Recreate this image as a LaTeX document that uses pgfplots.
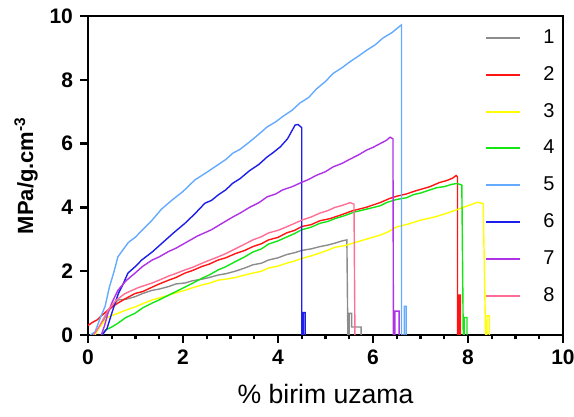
\documentclass[border=0pt]{standalone}
\usepackage{fontspec}
\setmainfont{Liberation Sans}
\usepackage{pgfplots}
\pgfplotsset{compat=1.18}

\definecolor{sGray}{RGB}{140,140,140}
\definecolor{sRed}{RGB}{255,20,20}
\definecolor{sYellow}{RGB}{255,255,0}
\definecolor{sGreen}{RGB}{20,230,20}
\definecolor{sSky}{RGB}{100,170,255}
\definecolor{sBlue}{RGB}{30,30,235}
\definecolor{sPurple}{RGB}{175,50,230}
\definecolor{sPink}{RGB}{255,110,150}

\begin{document}
\begin{tikzpicture}
\begin{axis}[
  width=237.5pt, height=159.5pt, scale only axis,
  xmin=0, xmax=10, ymin=0, ymax=10,
  xtick={0,2,...,10}, ytick={0,2,...,10},
  minor x tick num=3,
  tick align=outside, tick pos=left,
  major tick length=4pt, minor tick length=2.2pt,
  axis line style={line width=1.4pt},
  every tick/.style={black, line width=1.2pt},
  /pgf/number format/assume math mode=true,
  tick label style={font=\bfseries\fontsize{10.5}{12}\selectfont},
  xticklabel style={yshift=0pt},
  xlabel={\% birim uzama},
  xlabel style={font=\fontsize{13.3}{15}\selectfont, yshift=-3pt},
  ylabel={MPa/g.cm\textsuperscript{-3}},
  ylabel style={font=\bfseries\fontsize{11}{13}\selectfont, yshift=-1pt},
  every axis plot/.append style={line width=0.7pt, no markers},
  legend image code/.code={\draw[#1, line width=1pt] (0pt,0pt) -- (17pt,0pt);},
  legend style={at={(1,1)}, anchor=north east, xshift=1pt, yshift=-2.5pt,
    draw=none, fill=none,
    font=\fontsize{10}{11}\selectfont, row sep=6.0pt, column sep=9pt},
  legend cell align=left,
]
% 1
\addplot[sGray] coordinates {
 (0.1,0)(0.2,0.15)(0.3,0.4)(0.38,0.6)(0.45,0.8)(0.55,0.95)(0.63,1.1)(0.8,1.12)(0.99,1.2)(1.15,1.3)(1.35,1.4)
 (1.5,1.44)(1.7,1.52)(1.85,1.6)(2.04,1.63)(2.2,1.7)(2.4,1.75)(2.55,1.8)(2.74,1.88)(2.9,1.92)(3.1,2.0)
 (3.3,2.1)(3.47,2.2)(3.65,2.25)(3.8,2.35)(4.0,2.42)(4.18,2.52)(4.35,2.58)(4.5,2.65)(4.7,2.7)(4.88,2.77)
 (5.05,2.82)(5.2,2.88)(5.35,2.95)(5.45,2.98)(5.47,0)(5.5,0)(5.5,0.68)(5.55,0.68)(5.55,0.25)(5.75,0.25)(5.75,0)};
% 2
\addplot[sRed] coordinates {
 (0,0.3)(0.1,0.4)(0.2,0.48)(0.28,0.6)(0.45,0.82)(0.63,1.0)(0.8,1.15)(0.99,1.3)(1.15,1.36)(1.35,1.5)
 (1.5,1.6)(1.7,1.72)(1.85,1.8)(2.04,1.94)(2.2,2.02)(2.4,2.15)(2.55,2.22)(2.74,2.35)(2.9,2.42)(3.1,2.55)
 (3.3,2.65)(3.47,2.77)(3.65,2.86)(3.8,2.98)(4.0,3.06)(4.18,3.2)(4.35,3.28)(4.5,3.4)(4.7,3.46)(4.88,3.58)
 (5.1,3.65)(5.3,3.75)(5.58,3.9)(5.85,4.0)(6.15,4.15)(6.35,4.28)(6.5,4.35)(6.7,4.42)(6.9,4.52)(7.2,4.65)
 (7.4,4.78)(7.55,4.84)(7.68,4.92)(7.75,5.0)(7.78,4.95)(7.78,0)(7.81,0)(7.81,1.25)(7.84,1.25)(7.84,0)};
% 3
\addplot[sYellow] coordinates {
 (0.15,0)(0.22,0.2)(0.3,0.35)(0.42,0.56)(0.63,0.68)(0.8,0.78)(0.99,0.88)(1.15,0.98)(1.35,1.1)(1.5,1.16)
 (1.7,1.25)(1.85,1.32)(2.04,1.4)(2.2,1.48)(2.4,1.57)(2.55,1.62)(2.74,1.72)(2.9,1.75)(3.1,1.8)(3.3,1.88)
 (3.47,1.94)(3.65,2.0)(3.8,2.1)(4.0,2.16)(4.18,2.25)(4.35,2.32)(4.5,2.4)(4.7,2.48)(4.88,2.57)(5.05,2.66)
 (5.2,2.75)(5.4,2.8)(5.58,2.88)(5.85,3.0)(6.15,3.13)(6.3,3.22)(6.5,3.39)(6.75,3.48)(7.0,3.6)(7.3,3.7)
 (7.56,3.82)(7.75,3.92)(7.9,4.0)(8.05,4.08)(8.2,4.16)(8.32,4.12)(8.37,0)(8.4,0)(8.4,0.6)(8.45,0.6)(8.45,0)};
% 4
\addplot[sGreen] coordinates {
 (0.3,0)(0.36,0.15)(0.5,0.25)(0.63,0.37)(0.8,0.55)(0.99,0.68)(1.15,0.85)(1.35,1.0)(1.5,1.1)(1.7,1.25)
 (1.85,1.36)(2.04,1.5)(2.2,1.62)(2.4,1.78)(2.55,1.88)(2.74,2.04)(2.9,2.14)(3.1,2.3)(3.3,2.45)(3.47,2.6)
 (3.65,2.7)(3.8,2.85)(4.0,2.95)(4.18,3.07)(4.35,3.18)(4.5,3.3)(4.7,3.38)(4.88,3.5)(5.05,3.56)(5.2,3.65)
 (5.4,3.74)(5.6,3.85)(5.85,3.94)(6.15,4.05)(6.3,4.16)(6.5,4.25)(6.7,4.3)(6.85,4.4)(7.0,4.45)(7.2,4.55)
 (7.35,4.62)(7.5,4.65)(7.65,4.72)(7.77,4.75)(7.87,4.7)(7.9,0)(7.92,0)(7.92,0.55)(7.98,0.55)(7.98,0)};
% 5
\addplot[sSky] coordinates {
 (0.05,0)(0.15,0.1)(0.25,0.5)(0.36,0.9)(0.45,1.5)(0.55,2.0)(0.63,2.45)(0.75,2.7)(0.85,2.9)(1.0,3.07)
 (1.15,3.3)(1.35,3.6)(1.55,3.95)(1.77,4.23)(2.0,4.5)(2.25,4.86)(2.5,5.1)(2.75,5.35)(2.9,5.5)(3.05,5.7)
 (3.2,5.82)(3.4,6.05)(3.6,6.3)(3.77,6.52)(3.95,6.68)(4.1,6.85)(4.3,7.05)(4.46,7.27)(4.65,7.45)(4.8,7.7)
 (5.0,7.95)(5.16,8.2)(5.35,8.38)(5.5,8.55)(5.7,8.75)(5.87,8.93)(6.05,9.1)(6.2,9.3)(6.4,9.48)(6.57,9.69)
 (6.6,9.72)(6.6,0)(6.66,0)(6.66,0.9)(6.7,0.9)(6.7,0)};
% 6
\addplot[sBlue] coordinates {
 (0.3,0)(0.4,0.2)(0.5,0.68)(0.57,1.0)(0.64,1.3)(0.74,1.6)(0.84,1.94)(1.0,2.15)(1.13,2.35)(1.35,2.6)
 (1.56,2.88)(1.8,3.2)(2.04,3.5)(2.25,3.8)(2.46,4.13)(2.6,4.22)(2.75,4.4)(2.9,4.55)(3.05,4.76)(3.2,4.9)
 (3.4,5.15)(3.6,5.35)(3.77,5.58)(3.9,5.72)(4.05,5.9)(4.2,6.15)(4.36,6.58)(4.42,6.6)(4.5,6.5)
 (4.5,0)(4.53,0)(4.53,0.7)(4.57,0.7)(4.57,0)};
% 7
\addplot[sPurple] coordinates {
 (0.28,0)(0.35,0.3)(0.42,0.68)(0.5,1.0)(0.63,1.4)(0.8,1.7)(0.99,1.94)(1.15,2.15)(1.35,2.35)(1.5,2.45)
 (1.7,2.62)(1.85,2.72)(2.04,2.88)(2.3,3.1)(2.6,3.3)(2.8,3.48)(3.05,3.7)(3.2,3.82)(3.4,4.0)(3.6,4.15)
 (3.77,4.33)(3.95,4.42)(4.1,4.55)(4.3,4.65)(4.46,4.76)(4.65,4.88)(4.8,5.0)(5.0,5.12)(5.16,5.27)(5.35,5.38)
 (5.5,5.5)(5.7,5.65)(5.87,5.8)(6.0,5.88)(6.15,6.0)(6.28,6.1)(6.36,6.2)(6.42,6.15)(6.43,0)(6.46,0)
 (6.46,0.75)(6.55,0.75)(6.55,0)};
% 8
\addplot[sPink] coordinates {
 (0.12,0)(0.25,0.3)(0.42,0.78)(0.6,1.1)(0.78,1.3)(1.05,1.48)(1.35,1.63)(1.5,1.72)(1.7,1.85)(1.85,1.93)
 (2.04,2.04)(2.2,2.12)(2.4,2.25)(2.55,2.34)(2.74,2.45)(2.9,2.55)(3.1,2.7)(3.3,2.85)(3.47,2.98)(3.65,3.08)
 (3.8,3.2)(4.0,3.28)(4.18,3.39)(4.35,3.5)(4.5,3.6)(4.7,3.7)(4.88,3.82)(5.05,3.9)(5.2,4.0)(5.35,4.06)
 (5.52,4.15)(5.6,4.1)(5.62,0)};
\legend{1,2,3,4,5,6,7,8}
\end{axis}
\pgfresetboundingbox
\path[use as bounding box] (current axis.south west) ++(-44pt,-41pt) rectangle ([shift={(5.5pt,8pt)}]current axis.north east);
\end{tikzpicture}
\end{document}
